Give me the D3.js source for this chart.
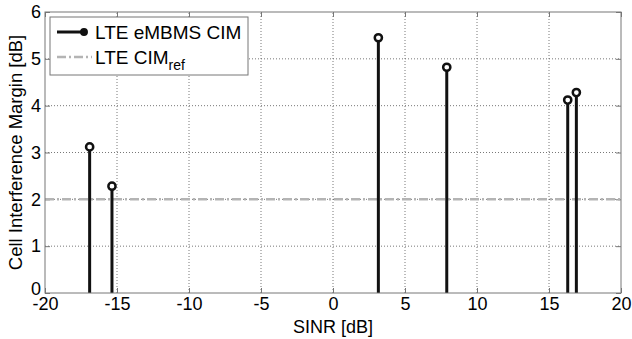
<!DOCTYPE html>
<html lang="en">
<head>
<meta charset="UTF-8">
<title>Cell Interference Margin</title>
<script src="https://d3js.org/d3.v7.min.js"></script>
<style>
  body { margin: 0; background: #fff; }
  svg { font-family: "Liberation Sans", Arial, sans-serif; }
</style>
</head>
<body>
<script>
// data
const sinr = [-16.9, -15.35, 3.15, 7.9, 16.3, 16.9];
const cim = [3.12, 2.28, 5.45, 4.82, 4.12, 4.28];
const cimRef = 2;
const xTicks = [-20, -15, -10, -5, 0, 5, 10, 15, 20];
const yTicks = [0, 1, 2, 3, 4, 5, 6];

const width = 632, height = 339;
const m = { left: 45, right: 11, top: 12, bottom: 46 };
const fnt = "Liberation Sans, Arial, sans-serif";

const svg = d3.select("body").append("svg")
  .attr("width", width)
  .attr("height", height);

const x = d3.scaleLinear().domain([-20, 20]).range([m.left, width - m.right]);
const y = d3.scaleLinear().domain([0, 6]).range([height - m.bottom, m.top]);

// grid
svg.append("g").selectAll("line")
  .data(xTicks.slice(1, -1))
  .join("line")
  .attr("x1", d => x(d)).attr("x2", d => x(d))
  .attr("y1", y(0)).attr("y2", y(6))
  .attr("stroke", "#555").attr("stroke-width", 0.8)
  .attr("stroke-dasharray", "1,2");
svg.append("g").selectAll("line")
  .data(yTicks.slice(1, -1))
  .join("line")
  .attr("y1", d => y(d)).attr("y2", d => y(d))
  .attr("x1", x(-20)).attr("x2", x(20))
  .attr("stroke", "#555").attr("stroke-width", 0.8)
  .attr("stroke-dasharray", "1,2");

// axes (ticks inside)
const fmt = d => String(d);
const xAxis = svg.append("g")
  .attr("transform", `translate(0,${y(0)})`)
  .call(d3.axisBottom(x).tickValues(xTicks).tickFormat(fmt).tickSizeInner(-5).tickSizeOuter(0).tickPadding(4));
const yAxis = svg.append("g")
  .attr("transform", `translate(${x(-20)},0)`)
  .call(d3.axisLeft(y).tickValues(yTicks).tickFormat(fmt).tickSizeInner(-5).tickSizeOuter(0).tickPadding(4));
[xAxis, yAxis].forEach(a => {
  a.attr("font-size", 18).attr("font-family", fnt);
  a.select(".domain").remove();
  a.selectAll("line").attr("stroke", "#777");
  a.selectAll("text").attr("fill", "#000");
});
// lift the "0" label a touch so it clears "-20"
yAxis.selectAll("text").filter(d => d === 0).attr("dy", "0.1em");
// top / right ticks
svg.append("g").attr("transform", `translate(0,${y(6)})`)
  .call(d3.axisTop(x).tickValues(xTicks).tickSizeInner(-5).tickSizeOuter(0).tickFormat(""))
  .call(g => { g.select(".domain").remove(); g.selectAll("line").attr("stroke", "#777"); });
svg.append("g").attr("transform", `translate(${x(20)},0)`)
  .call(d3.axisRight(y).tickValues(yTicks).tickSizeInner(-5).tickSizeOuter(0).tickFormat(""))
  .call(g => { g.select(".domain").remove(); g.selectAll("line").attr("stroke", "#777"); });

// reference line
svg.append("line")
  .attr("x1", x(-20)).attr("x2", x(20))
  .attr("y1", y(cimRef)).attr("y2", y(cimRef))
  .attr("stroke", "#b4b4b4").attr("stroke-width", 2.5)
  .attr("stroke-dasharray", "9,3,2,3");

// stems
const pts = sinr.map((s, i) => ({ s, v: cim[i] }));
svg.append("g").selectAll("line")
  .data(pts)
  .join("line")
  .attr("x1", d => x(d.s)).attr("x2", d => x(d.s))
  .attr("y1", y(0)).attr("y2", d => y(d.v))
  .attr("stroke", "#111").attr("stroke-width", 3);
svg.append("g").selectAll("circle")
  .data(pts)
  .join("circle")
  .attr("cx", d => x(d.s)).attr("cy", d => y(d.v))
  .attr("r", 3.6)
  .attr("fill", "#fff").attr("stroke", "#111").attr("stroke-width", 2.5);

// box
svg.append("rect")
  .attr("x", x(-20)).attr("y", y(6))
  .attr("width", x(20) - x(-20)).attr("height", y(0) - y(6))
  .attr("fill", "none").attr("stroke", "#777").attr("stroke-width", 1);

// axis titles
svg.append("text")
  .attr("x", x(0)).attr("y", 333)
  .attr("text-anchor", "middle").attr("font-size", 18)
  .text("SINR [dB]");
svg.append("text")
  .attr("transform", `translate(22,${(y(0) + y(6)) / 2}) rotate(-90)`)
  .attr("text-anchor", "middle").attr("font-size", 18.5)
  .text("Cell Interference Margin [dB]");

// legend
const lg = svg.append("g");
lg.append("rect")
  .attr("x", 50).attr("y", 17).attr("width", 198).attr("height", 58)
  .attr("fill", "#fff").attr("stroke", "#777").attr("stroke-width", 1);
lg.append("line").attr("x1", 57).attr("x2", 84).attr("y1", 32).attr("y2", 32)
  .attr("stroke", "#111").attr("stroke-width", 3);
lg.append("circle").attr("cx", 84).attr("cy", 32).attr("r", 3.2)
  .attr("fill", "#111").attr("stroke", "#111").attr("stroke-width", 1.5);
lg.append("text").attr("x", 95).attr("y", 39).attr("font-size", 19).text("LTE eMBMS CIM");
lg.append("line").attr("x1", 57).attr("x2", 92).attr("y1", 57).attr("y2", 57)
  .attr("stroke", "#b4b4b4").attr("stroke-width", 2.5)
  .attr("stroke-dasharray", "9,3,2,3");
const t2 = lg.append("text").attr("x", 95).attr("y", 64).attr("font-size", 19);
t2.append("tspan").text("LTE CIM");
t2.append("tspan").attr("dy", 6).attr("font-size", 14).text("ref");
</script>
</body>
</html>
